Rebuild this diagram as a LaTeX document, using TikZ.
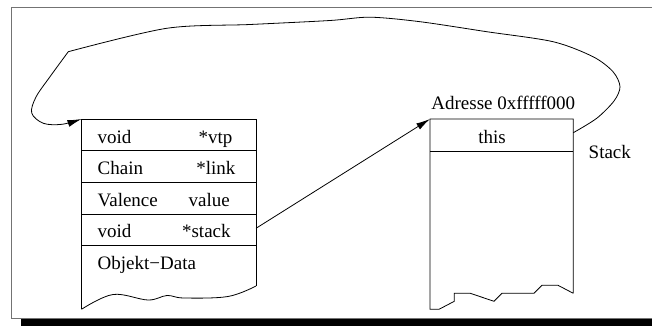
\documentclass[tikz,border=0pt]{standalone}
\usepackage{fontspec}
\setmainfont{Liberation Serif}
\usetikzlibrary{arrows.meta}
\begin{document}
\begin{tikzpicture}[x=1pt,y=-1pt,line width=0.8pt,line join=miter,
  txt/.style={inner sep=0pt,anchor=base west,font=\fontsize{19}{22}\selectfont},
  ctxt/.style={inner sep=0pt,anchor=base,font=\fontsize{19}{22}\selectfont},
  ptr/.style={-{Latex[length=14pt,width=7pt]}},
  frame/.style={draw=black!55,line width=0.9pt}]
\useasboundingbox (0,0) rectangle (652,326);
\clip (0,0) rectangle (652,326);

% page frame and its shadow
\fill[black] (21,319.2) rectangle (670,330);
\draw[frame] (11.7,7.3) rectangle (670,318);

% object record
\coordinate (ltl) at (81.5,119);
\coordinate (ltr) at (256,119);
\coordinate (lbl) at (81.5,309.3);
\coordinate (lbr) at (256,286);
\draw (lbr) -- (ltr) -- (ltl) -- (lbl);
\draw plot[smooth,tension=0.6] coordinates {(lbl) (113,294.5) (148,300) (167,295.5) (184,298) (228,296.5) (lbr)};
\foreach \yy in {150.7,182.3,214,245.5}
  \draw (81.5,\yy) -- (256,\yy);
\coordinate (stackptr) at (256,228.3);

\node[txt] (t1a) at (97.3,143.3) {void};
\node[txt] (t1b) at (198.3,143.3) {*vtp};
\node[txt] (t2a) at (97.3,174.6) {Chain};
\node[txt] (t2b) at (196,174.6) {*link};
\node[txt] (t3a) at (97.3,206.3) {Valence};
\node[txt] (t3b) at (188.3,206.3) {value};
\node[txt] (t4a) at (97.3,237.5) {void};
\node[txt] (t4b) at (181.7,237.5) {*stack};
\node[txt] (t5a) at (97.3,269) {Objekt−Data};

% stack area
\coordinate (rtl) at (430,119);
\coordinate (rtr) at (573.3,119);
\draw (573.3,293.3) -- (rtr) -- (rtl) -- (430,309.3) -- (439,309.3) -- (454.3,301.3)
  -- (454.3,293.3) -- (470.3,293.3) -- (494,301.3) -- (502,293.3) -- (534,293.3)
  -- (542,285.3) -- (558,285.3) -- (573.3,293.3);
\draw (430,151) -- (573.3,151);
\coordinate (thisout) at (573.3,132.7);

\node[txt] (addr) at (431,110) {Adresse 0xfffff000};
\node[ctxt] (this) at (492,143.3) {this};
\node[txt] (stk) at (588.3,158.3) {Stack};

% pointers
\draw[ptr] (stackptr) -- (rtl);
\draw[ptr] plot[smooth,tension=0.5] coordinates {(thisout) (596.7,118.3) (614,101) (620,86.7) (613,71.7) (593,56.7) (553,41.7) (486.7,31.7) (420,21.7) (370,17.2) (330,20.5) (250,24.5) (166.7,28.3) (68.3,51.7)}
  -- plot[smooth,tension=0.55] coordinates {(68.3,51.7) (50,76.7) (36,97) (31.7,113) (43.3,123.3) (62,124.3) (ltl)};
\end{tikzpicture}
\end{document}
